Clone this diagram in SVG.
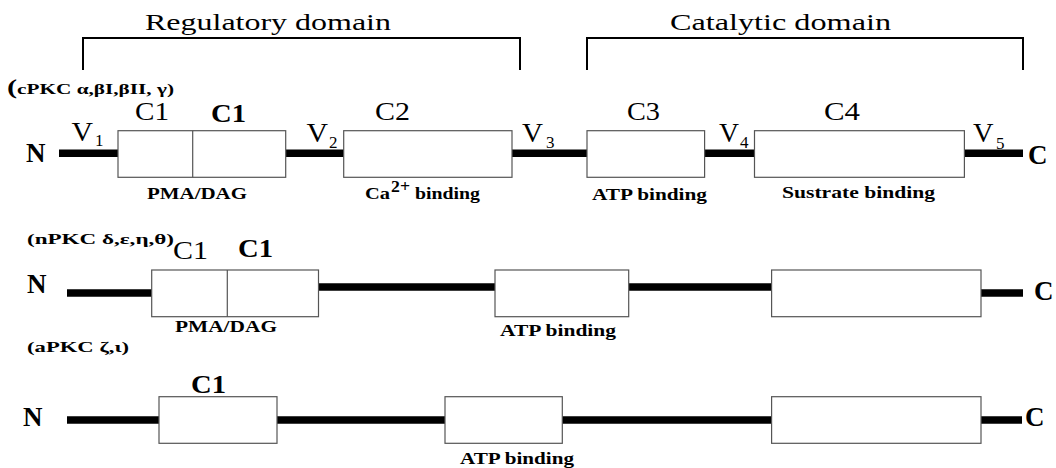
<svg xmlns="http://www.w3.org/2000/svg" width="1056" height="468" viewBox="0 0 1056 468">
<style>
text{font-family:"Liberation Serif","Times New Roman",serif;fill:#000}
.dom{font-size:23px}
.c{font-size:26px}
.cb{font-size:26px;font-weight:bold}
.nc{font-size:27px;font-weight:bold}
.v{font-size:27px}
.sub{font-size:17px}
.lab{font-size:16px;font-weight:bold}
.iso{font-size:14px;font-weight:bold}
.box{fill:#fff;stroke:#555;stroke-width:1.2}
.div{stroke:#555;stroke-width:1.2}
.br{fill:none;stroke:#000;stroke-width:2}
.ln{stroke:#000;stroke-width:7.5}
</style>
<g id="brackets">
<text class="dom" x="145" y="30" textLength="246" lengthAdjust="spacingAndGlyphs">Regulatory domain</text>
<path class="br" d="M83,70 V38 H520 V70"/>
<text class="dom" x="670" y="30" textLength="221" lengthAdjust="spacingAndGlyphs">Catalytic domain</text>
<path class="br" d="M587,70 V38 H1023 V70"/>
</g>
<g id="connectors">
<line class="ln" x1="59" y1="153.3" x2="118" y2="153.3"/>
<line class="ln" x1="286" y1="153.3" x2="344" y2="153.3"/>
<line class="ln" x1="512" y1="153.3" x2="587" y2="153.3"/>
<line class="ln" x1="705" y1="153.3" x2="755" y2="153.3"/>
<line class="ln" x1="964" y1="153.3" x2="1023" y2="153.3"/>
<line class="ln" x1="67" y1="293" x2="152" y2="293"/>
<line class="ln" x1="318" y1="287" x2="495" y2="287"/>
<line class="ln" x1="629" y1="287" x2="772" y2="287"/>
<line class="ln" x1="981" y1="293" x2="1023" y2="293"/>
<line class="ln" x1="67" y1="420" x2="159" y2="420"/>
<line class="ln" x1="277" y1="420" x2="445" y2="420"/>
<line class="ln" x1="562" y1="420" x2="772" y2="420"/>
<line class="ln" x1="981" y1="420" x2="1022" y2="420"/>
</g>
<g id="row-cPKC">
<text class="iso" x="7" y="94" textLength="167" lengthAdjust="spacingAndGlyphs"><tspan font-size="20">(</tspan>cPKC α,βI,βII, γ)</text>
<text class="nc" x="26" y="162">N</text>
<text class="nc" x="1028" y="164">C</text>
<text class="v" x="71.5" y="141" textLength="21.5" lengthAdjust="spacingAndGlyphs">V</text><text class="sub" x="95" y="146">1</text>
<text class="v" x="306.5" y="142" textLength="21.5" lengthAdjust="spacingAndGlyphs">V</text><text class="sub" x="329" y="148">2</text>
<text class="v" x="522" y="142" textLength="21" lengthAdjust="spacingAndGlyphs">V</text><text class="sub" x="546" y="148">3</text>
<text class="v" x="719" y="142" textLength="20" lengthAdjust="spacingAndGlyphs">V</text><text class="sub" x="740" y="148">4</text>
<text class="v" x="973" y="142" textLength="20.5" lengthAdjust="spacingAndGlyphs">V</text><text class="sub" x="996" y="149">5</text>
</g>
<g id="c1-cPKC">
<rect class="box" x="118" y="130.7" width="167.7" height="46.6"/>
<line class="div" x1="192.7" y1="130.7" x2="192.7" y2="177.3"/>
<text class="c" x="135" y="120" textLength="34" lengthAdjust="spacingAndGlyphs">C1</text>
<text class="cb" x="211" y="122" textLength="35" lengthAdjust="spacingAndGlyphs">C1</text>
<text class="lab" x="147" y="199" textLength="100" lengthAdjust="spacingAndGlyphs">PMA/DAG</text>
</g>
<g id="c2-cPKC">
<rect class="box" x="343.7" y="130.7" width="168.3" height="46.6"/>
<text class="c" x="375" y="120" textLength="35" lengthAdjust="spacingAndGlyphs">C2</text>
<text class="lab" x="365" y="199" textLength="25" lengthAdjust="spacingAndGlyphs">Ca</text><text class="lab" x="391" y="192" font-size="11" textLength="19" lengthAdjust="spacingAndGlyphs">2+</text><text class="lab" x="415" y="199" textLength="65" lengthAdjust="spacingAndGlyphs">binding</text>
</g>
<g id="c3-cPKC">
<rect class="box" x="587" y="130.7" width="117.6" height="46.6"/>
<text class="c" x="627" y="120" textLength="33" lengthAdjust="spacingAndGlyphs">C3</text>
<text class="lab" x="592" y="200" textLength="115" lengthAdjust="spacingAndGlyphs">ATP binding</text>
</g>
<g id="c4-cPKC">
<rect class="box" x="754.5" y="130.7" width="209.9" height="46.6"/>
<text class="c" x="824" y="120" textLength="36" lengthAdjust="spacingAndGlyphs">C4</text>
<text class="lab" x="782" y="198" textLength="153" lengthAdjust="spacingAndGlyphs">Sustrate binding</text>
</g>
<g id="row-nPKC">
<text class="iso" x="27" y="244" textLength="147" lengthAdjust="spacingAndGlyphs">(nPKC  δ,ε,η,θ)</text>
<text class="nc" x="27" y="293">N</text>
<text class="nc" x="1034" y="300">C</text>
</g>
<g id="c1-nPKC">
<rect class="box" x="151.7" y="270" width="166.8" height="46.7"/>
<line class="div" x1="227.3" y1="270" x2="227.3" y2="316.7"/>
<text class="c" x="173" y="259" textLength="35" lengthAdjust="spacingAndGlyphs">C1</text>
<text class="cb" x="238" y="257" textLength="35" lengthAdjust="spacingAndGlyphs">C1</text>
<text class="lab" x="175" y="332" textLength="102" lengthAdjust="spacingAndGlyphs">PMA/DAG</text>
</g>
<g id="c3-nPKC">
<rect class="box" x="495" y="270" width="133.7" height="46.7"/>
<text class="lab" x="500" y="336" textLength="116" lengthAdjust="spacingAndGlyphs">ATP binding</text>
</g>
<g id="c4-nPKC">
<rect class="box" x="771.6" y="270" width="209.4" height="46.7"/>
</g>
<g id="row-aPKC">
<text class="iso" x="27" y="352" textLength="102" lengthAdjust="spacingAndGlyphs">(aPKC ζ,ι)</text>
<text class="nc" x="23" y="426">N</text>
<text class="nc" x="1025" y="426">C</text>
</g>
<g id="c1-aPKC">
<rect class="box" x="159" y="396.7" width="118" height="46.6"/>
<text class="cb" x="191" y="393" textLength="35" lengthAdjust="spacingAndGlyphs">C1</text>
</g>
<g id="c3-aPKC">
<rect class="box" x="445" y="396.7" width="117.3" height="46.6"/>
<text class="lab" x="460" y="464" textLength="114" lengthAdjust="spacingAndGlyphs">ATP binding</text>
</g>
<g id="c4-aPKC">
<rect class="box" x="771.6" y="396.7" width="209.4" height="46.6"/>
</g>
</svg>
